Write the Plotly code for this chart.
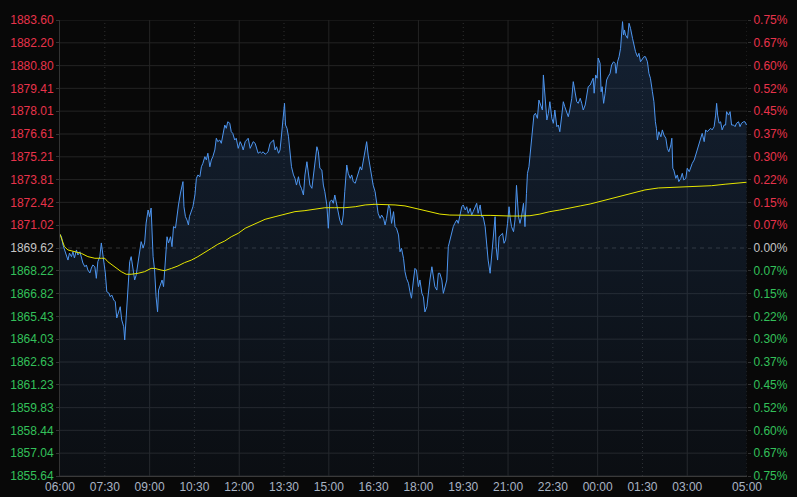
import plotly.graph_objects as go

# ---------------- data ----------------
base_price = 1869.62

time_ticks = [0, 90, 180, 270, 360, 450, 540, 630, 720, 810, 900, 990, 1080, 1170, 1260, 1380]
time_labels = ["06:00", "07:30", "09:00", "10:30", "12:00", "13:30", "15:00", "16:30",
               "18:00", "19:30", "21:00", "22:30", "00:00", "01:30", "03:00", "05:00"]

price_ticks = [1883.60, 1882.20, 1880.80, 1879.41, 1878.01, 1876.61, 1875.21, 1873.81,
               1872.42, 1871.02, 1869.62, 1868.22, 1866.82, 1865.43, 1864.03, 1862.63,
               1861.23, 1859.83, 1858.44, 1857.04, 1855.64]
price_labels = ["1883.60", "1882.20", "1880.80", "1879.41", "1878.01", "1876.61", "1875.21",
                "1873.81", "1872.42", "1871.02", "1869.62", "1868.22", "1866.82", "1865.43",
                "1864.03", "1862.63", "1861.23", "1859.83", "1858.44", "1857.04", "1855.64"]
pct_labels = ["0.75%", "0.67%", "0.60%", "0.52%", "0.45%", "0.37%", "0.30%", "0.22%",
              "0.15%", "0.07%", "0.00%", "0.07%", "0.15%", "0.22%", "0.30%", "0.37%",
              "0.45%", "0.52%", "0.60%", "0.67%", "0.75%"]

# minutes after 06:00
price_minutes = [
    0, 3, 6, 9, 13, 16, 19, 23, 26, 29, 33, 36, 40, 43, 46, 50, 53, 56, 60, 63,
    66, 70, 73, 76, 80, 83, 85, 88, 91, 94, 98, 101, 104, 108, 111, 114, 118, 121, 124, 128,
    130, 133, 137, 140, 143, 147, 150, 153, 157, 160, 163, 167, 170, 173, 177, 180, 183, 187, 190, 193,
    196, 198, 202, 205, 208, 212, 215, 218, 222, 225, 228, 232, 235, 238, 242, 245, 247, 249, 252, 255,
    258, 260, 264, 267, 271, 274, 277, 281, 284, 287, 291, 294, 297, 301, 304, 307, 311, 314, 317, 321,
    324, 327, 331, 334, 337, 341, 344, 347, 351, 354, 358, 362, 365, 368, 372, 375, 378, 382, 385, 388,
    392, 395, 398, 402, 405, 408, 412, 415, 418, 422, 425, 429, 432, 435, 439, 442, 445, 449, 451, 453,
    456, 459, 462, 465, 469, 472, 475, 479, 482, 485, 489, 492, 496, 499, 502, 506, 509, 512, 516, 519,
    522, 526, 529, 532, 536, 539, 542, 546, 549, 552, 556, 559, 562, 566, 569, 572, 576, 579, 583, 586,
    589, 593, 596, 599, 603, 606, 609, 613, 616, 619, 623, 626, 629, 633, 636, 639, 643, 646, 650, 653,
    656, 660, 663, 666, 670, 673, 676, 680, 683, 686, 690, 693, 696, 700, 703, 706, 710, 713, 716, 720,
    723, 727, 730, 733, 737, 740, 743, 747, 750, 753, 757, 760, 763, 767, 770, 773, 777, 780, 783, 787,
    790, 793, 797, 800, 803, 807, 810, 814, 817, 820, 824, 827, 830, 834, 837, 840, 844, 847, 850, 854,
    857, 860, 864, 867, 870, 874, 876, 879, 882, 885, 889, 892, 895, 899, 902, 904, 907, 911, 914, 917,
    921, 924, 927, 931, 934, 937, 939, 942, 945, 949, 952, 955, 959, 962, 966, 969, 971, 974, 978, 981,
    984, 988, 991, 994, 998, 1001, 1004, 1008, 1011, 1014, 1018, 1021, 1024, 1028, 1031, 1035, 1038, 1041, 1045, 1048,
    1051, 1055, 1058, 1061, 1065, 1068, 1071, 1073, 1076, 1079, 1081, 1085, 1087, 1089, 1092, 1095, 1098, 1101, 1105, 1108,
    1112, 1115, 1117, 1120, 1123, 1126, 1130, 1132, 1134, 1136, 1140, 1143, 1146, 1150, 1153, 1156, 1160, 1163, 1166, 1170,
    1173, 1176, 1180, 1183, 1186, 1190, 1193, 1196, 1198, 1200, 1203, 1207, 1210, 1213, 1217, 1220, 1223, 1227, 1229, 1231,
    1233, 1237, 1240, 1243, 1247, 1250, 1253, 1257, 1260, 1264, 1267, 1270, 1274, 1277, 1280, 1284, 1287, 1290, 1294, 1297,
    1300, 1304, 1307, 1310, 1314, 1317, 1319, 1321, 1324, 1327, 1330, 1334, 1337, 1339, 1343, 1346, 1349, 1353, 1356, 1359,
    1363, 1366, 1369, 1373, 1376, 1379,
]
prices = [
    1870.46, 1870.31, 1869.80, 1869.50, 1869.09, 1868.88, 1869.31, 1869.09, 1869.39, 1869.01,
    1869.50, 1869.19, 1869.39, 1869.09, 1868.70, 1868.47, 1868.58, 1868.27, 1868.09, 1868.39,
    1868.58, 1868.47, 1867.76, 1868.78, 1869.09, 1869.93, 1869.50, 1868.70, 1868.09, 1866.94,
    1866.86, 1866.63, 1866.74, 1866.43, 1866.33, 1865.33, 1865.82, 1866.02, 1865.21, 1864.79,
    1863.98, 1865.63, 1867.47, 1868.78, 1869.09, 1868.27, 1867.66, 1867.96, 1868.70, 1869.19,
    1870.01, 1869.62, 1869.93, 1871.15, 1871.95, 1871.54, 1872.07, 1869.09, 1868.27, 1866.63,
    1865.71, 1867.04, 1867.47, 1867.66, 1867.25, 1869.09, 1870.31, 1869.93, 1870.31, 1869.70,
    1870.93, 1870.85, 1871.77, 1872.26, 1872.99, 1873.38, 1873.69, 1872.15, 1871.54, 1871.34,
    1871.03, 1871.54, 1871.95, 1872.15, 1872.87, 1873.89, 1874.10, 1873.99, 1874.60, 1874.81,
    1875.22, 1875.02, 1875.43, 1874.60, 1875.02, 1875.22, 1875.63, 1876.35, 1876.14, 1876.24,
    1876.04, 1876.65, 1877.16, 1876.96, 1877.36, 1877.27, 1876.75, 1876.65, 1876.24, 1876.35,
    1875.73, 1876.14, 1875.94, 1875.63, 1876.14, 1876.24, 1876.35, 1875.73, 1875.94, 1876.14,
    1876.04, 1875.73, 1875.43, 1875.52, 1875.43, 1875.52, 1875.37, 1875.43, 1875.52, 1876.04,
    1876.14, 1876.24, 1875.63, 1875.83, 1875.43, 1875.63, 1876.55, 1877.77, 1878.49, 1877.16,
    1876.96, 1876.44, 1875.22, 1874.60, 1874.10, 1873.89, 1873.48, 1873.99, 1873.48, 1873.28,
    1872.87, 1874.10, 1874.91, 1874.10, 1873.48, 1873.28, 1874.10, 1875.12, 1875.83, 1875.52,
    1874.51, 1874.40, 1873.48, 1873.07, 1872.26, 1870.83, 1872.46, 1872.56, 1872.36, 1872.87,
    1872.26, 1871.64, 1871.34, 1871.03, 1871.64, 1873.07, 1874.71, 1874.20, 1873.89, 1874.10,
    1873.69, 1873.59, 1873.89, 1874.30, 1874.60, 1874.40, 1874.91, 1875.73, 1876.14, 1875.32,
    1874.51, 1874.10, 1873.48, 1873.07, 1872.46, 1871.75, 1871.44, 1871.64, 1871.44, 1871.03,
    1871.44, 1872.26, 1872.05, 1871.13, 1871.85, 1870.93, 1870.83, 1870.42, 1869.39, 1869.60,
    1868.99, 1868.17, 1867.76, 1867.46, 1866.94, 1866.54, 1867.66, 1868.37, 1868.27, 1867.25,
    1867.66, 1866.84, 1866.63, 1865.70, 1866.02, 1867.04, 1867.66, 1868.47, 1867.86, 1867.25,
    1867.04, 1868.07, 1868.07, 1867.66, 1866.84, 1867.25, 1867.66, 1869.70, 1870.11, 1870.52,
    1870.93, 1871.13, 1871.34, 1871.13, 1871.54, 1872.15, 1872.26, 1871.95, 1872.15, 1871.75,
    1872.05, 1871.64, 1871.85, 1872.15, 1872.36, 1871.75, 1872.26, 1871.54, 1871.54, 1870.93,
    1869.70, 1868.88, 1868.07, 1869.09, 1869.70, 1871.54, 1869.70, 1868.88, 1870.31, 1870.42,
    1870.52, 1869.91, 1870.11, 1871.13, 1872.15, 1871.54, 1870.93, 1870.62, 1871.34, 1873.46,
    1871.54, 1871.13, 1871.54, 1872.36, 1870.93, 1872.97, 1874.20, 1874.60, 1875.63, 1877.06,
    1877.77, 1877.88, 1877.57, 1878.69, 1878.28, 1878.08, 1880.23, 1878.90, 1877.47, 1877.88,
    1878.59, 1877.57, 1877.27, 1878.08, 1877.06, 1877.16, 1876.75, 1877.77, 1878.59, 1878.28,
    1877.98, 1877.67, 1878.08, 1878.80, 1879.82, 1879.11, 1878.59, 1878.49, 1878.80, 1878.49,
    1878.08, 1878.39, 1879.00, 1879.51, 1879.61, 1879.82, 1880.03, 1879.11, 1880.23, 1880.03,
    1881.27, 1880.94, 1879.20, 1879.51, 1878.49, 1879.11, 1879.92, 1880.12, 1880.33, 1880.84,
    1881.04, 1880.94, 1880.33, 1881.04, 1881.35, 1881.86, 1883.50, 1882.68, 1882.99, 1882.68,
    1882.48, 1883.40, 1883.09, 1882.48, 1881.96, 1881.66, 1881.35, 1881.56, 1881.04, 1881.25,
    1881.35, 1881.35, 1881.04, 1880.33, 1880.03, 1879.20, 1878.59, 1877.36, 1876.96, 1876.24,
    1876.75, 1876.44, 1876.86, 1876.55, 1876.35, 1875.73, 1875.52, 1875.94, 1876.35, 1874.51,
    1874.40, 1873.89, 1874.10, 1873.69, 1873.89, 1874.20, 1873.79, 1873.89, 1874.51, 1874.30,
    1874.60, 1874.81, 1875.02, 1875.32, 1875.63, 1876.04, 1876.35, 1876.65, 1876.14, 1876.86,
    1876.75, 1876.86, 1876.96, 1876.86, 1877.06, 1877.77, 1878.49, 1877.77, 1877.27, 1877.36,
    1876.86, 1877.16, 1877.16, 1877.98, 1877.77, 1877.98, 1877.16, 1877.16, 1877.06, 1877.27,
    1877.36, 1877.06, 1877.27, 1877.36, 1877.36, 1877.16,
]

ma_minutes = [0, 3, 9, 16, 30, 43, 56, 70, 83, 90, 96, 110, 123, 133, 143, 157, 170, 183, 190, 203,
              210, 224, 237, 250, 264, 277, 291, 304, 317, 331, 344, 358, 372, 392, 412, 432, 452, 472, 492, 512,
              532, 552, 572, 593, 613, 633, 653, 673, 693, 713, 723, 743, 763, 783, 803, 823, 844, 864, 884, 904,
              924, 944, 964, 984, 1004, 1024, 1045, 1065, 1095, 1121, 1148, 1175, 1202, 1229, 1255, 1282, 1309, 1336, 1362, 1379]
ma_values = [1870.46, 1870.21, 1869.70, 1869.50, 1869.39, 1869.29, 1869.09, 1868.99, 1868.99, 1868.99,
             1868.78, 1868.47, 1868.17, 1868.01, 1868.01, 1868.07, 1868.17, 1868.37, 1868.37, 1868.27,
             1868.23, 1868.37, 1868.52, 1868.72, 1868.88, 1869.09, 1869.33, 1869.60, 1869.85, 1870.05,
             1870.31, 1870.52, 1870.83, 1871.13, 1871.38, 1871.54, 1871.70, 1871.85, 1871.91, 1872.01,
             1872.09, 1872.09, 1872.09, 1872.15, 1872.26, 1872.30, 1872.30, 1872.26, 1872.20, 1872.05,
             1872.01, 1871.85, 1871.70, 1871.64, 1871.62, 1871.62, 1871.62, 1871.62, 1871.58, 1871.58,
             1871.58, 1871.60, 1871.70, 1871.85, 1871.95, 1872.05, 1872.20, 1872.32, 1872.56, 1872.77,
             1872.97, 1873.18, 1873.30, 1873.34, 1873.34, 1873.38, 1873.44, 1873.53, 1873.59, 1873.65]

# ---------------- style ----------------
BG = "#080808"
RED = "#e8334b"
GREEN = "#33c05a"
NEUTRAL = "#c4c4c4"
GRID = "#242424"
FONT = "Arial, Liberation Sans, sans-serif"

y_lo, y_hi = price_ticks[-1], price_ticks[0]
x_lo, x_hi = time_ticks[0], time_ticks[-1]


def colored(labels):
    out = []
    for v, lab in zip(price_ticks, labels):
        c = RED if v > base_price else (GREEN if v < base_price else NEUTRAL)
        out.append(f'<span style="color:{c}">{lab}</span>')
    return out


fig = go.Figure()
fig.add_trace(go.Scatter(
    x=price_minutes, y=prices, mode="lines",
    line=dict(color="#4d95ef", width=1),
    fill="tozeroy",
    fillgradient=dict(type="vertical",
                      colorscale=[[0, "rgba(45,85,140,0.08)"], [1, "rgba(45,85,140,0.32)"]],
                      start=y_lo, stop=y_hi),
    hoverinfo="skip", showlegend=False,
))
fig.add_trace(go.Scatter(
    x=ma_minutes, y=ma_values, mode="lines",
    line=dict(color="#e6e600", width=1),
    hoverinfo="skip", showlegend=False,
))
# invisible trace to activate the right axis
fig.add_trace(go.Scatter(x=[x_lo], y=[base_price], yaxis="y2", mode="markers",
                         marker=dict(opacity=0), hoverinfo="skip", showlegend=False))

shapes = []
for v in price_ticks:
    if v == base_price:
        shapes.append(dict(type="line", xref="paper", x0=0, x1=1, yref="y", y0=v, y1=v,
                           line=dict(color="#333333", width=1, dash="4px,4px"), layer="below"))
    else:
        shapes.append(dict(type="line", xref="paper", x0=0, x1=1, yref="y", y0=v, y1=v,
                           line=dict(color=GRID, width=1), layer="below"))
for t in time_ticks[1:]:
    solid = (t - time_ticks[0]) % 180 == 0
    shapes.append(dict(type="line", xref="x", x0=t, x1=t, yref="paper", y0=0, y1=1,
                       line=dict(color=GRID if solid else "#303030", width=1,
                                 dash="solid" if solid else "1px,3px"), layer="below"))

fig.update_layout(
    width=797, height=497,
    margin=dict(l=60, r=50, t=20, b=21, autoexpand=False),
    paper_bgcolor=BG, plot_bgcolor=BG,
    font=dict(family=FONT, size=12, color=NEUTRAL),
    shapes=shapes,
    xaxis=dict(range=[x_lo, x_hi], tickmode="array", tickvals=time_ticks, ticktext=time_labels,
               showgrid=False, zeroline=False, showline=True, linecolor="#3a3a3a", linewidth=1,
               ticks="", tickfont=dict(color="#a9b4c4", size=12, family=FONT)),
    yaxis=dict(range=[y_lo, y_hi], tickmode="array", tickvals=price_ticks, ticktext=colored(price_labels),
               showgrid=False, zeroline=False, showline=True, linecolor="#333333",
               ticks="outside", ticklen=3, tickcolor="#333333", side="left",
               tickfont=dict(size=12, family=FONT)),
    yaxis2=dict(range=[y_lo, y_hi], tickmode="array", tickvals=price_ticks, ticktext=colored(pct_labels),
                overlaying="y", side="right", showgrid=False, zeroline=False, showline=False,
                ticks="outside", ticklen=3, tickcolor="#333333",
                tickfont=dict(size=12, family=FONT)),
)

fig.write_html("out.html", config={"displayModeBar": False, "staticPlot": True})

# remove the browser's default page margin so the figure sits at the top-left corner
with open("out.html", "r", encoding="utf-8") as fh:
    html = fh.read()
html = html.replace("<head>", "<head><style>html,body{margin:0;padding:0;overflow:hidden;background:#080808}</style>", 1)
with open("out.html", "w", encoding="utf-8") as fh:
    fh.write(html)
